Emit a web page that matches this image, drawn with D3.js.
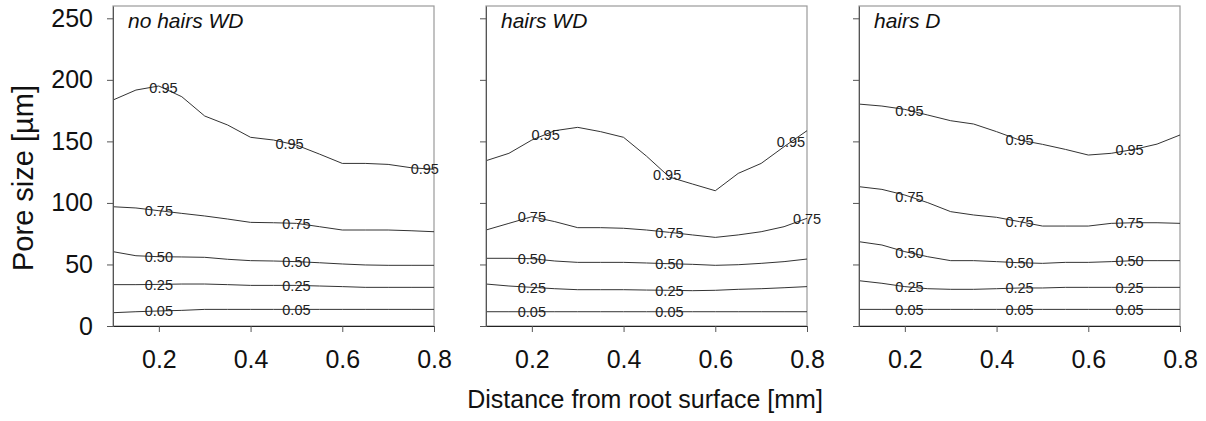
<!DOCTYPE html>
<html>
<head>
<meta charset="utf-8">
<script src="https://cdn.jsdelivr.net/npm/d3@7"></script>
<style>
    body { margin: 0; background: #fff; }
    text { font-family: "Liberation Sans", Arial, sans-serif; }
</style>
</head>
<body>
<div id="chart"></div>
<script>
// distance from root surface [mm], shared by all three panels
var distance = [0.1, 0.15, 0.2, 0.25, 0.3, 0.35, 0.4, 0.45, 0.5, 0.55, 0.6, 0.65, 0.7, 0.75, 0.8];
var levels = ["0.05", "0.25", "0.50", "0.75", "0.95"];
var panelNames = ["no hairs WD", "hairs WD", "hairs D"];
var xTicks = [0.2, 0.4, 0.6, 0.8];
var yTicks = [0, 50, 100, 150, 200, 250];

// pore size [µm] of each contour, in the order of levels
var noHairsWD = [
    [10.8, 11.6, 12.2, 12.7, 13.5, 13.5, 13.5, 13.5, 13.5, 13.5, 13.5, 13.5, 13.5, 13.5, 13.5],
    [33.6, 33.6, 33.8, 34.1, 34.1, 33.6, 33.0, 33.0, 33.0, 32.5, 32.0, 31.4, 31.4, 31.4, 31.4],
    [60.4, 57.1, 56.3, 56.1, 55.8, 54.2, 53.1, 52.8, 52.3, 51.4, 50.4, 49.6, 49.3, 49.3, 49.3],
    [96.9, 95.9, 93.7, 91.5, 89.4, 86.9, 84.2, 83.9, 83.4, 80.7, 78.0, 78.0, 78.0, 77.4, 76.6],
    [183.6, 191.7, 195.0, 186.3, 170.6, 163.3, 153.3, 151.1, 147.0, 139.7, 132.1, 132.1, 131.3, 128.6, 127.3]
];
var hairsWD = [
    [11.6, 11.6, 11.6, 11.6, 11.6, 11.6, 11.6, 11.6, 11.6, 11.6, 11.6, 11.6, 11.6, 11.6, 11.6],
    [34.1, 32.5, 31.4, 30.3, 29.5, 29.5, 29.5, 29.2, 29.0, 28.7, 29.0, 29.8, 30.3, 31.1, 32.0],
    [55.0, 55.0, 54.7, 52.8, 51.7, 51.7, 51.7, 51.2, 50.6, 50.1, 49.3, 49.8, 50.9, 52.3, 54.4],
    [78.0, 83.4, 88.8, 84.8, 79.9, 79.9, 79.4, 78.0, 76.1, 74.0, 72.0, 74.0, 76.6, 80.7, 87.5],
    [134.3, 140.3, 151.1, 158.7, 161.4, 157.9, 153.3, 138.0, 121.0, 115.4, 109.9, 124.0, 132.1, 145.7, 158.7]
];
var hairsD = [
    [13.5, 13.5, 13.5, 13.5, 13.5, 13.5, 13.5, 13.5, 13.5, 13.5, 13.5, 13.5, 13.5, 13.5, 13.5],
    [36.8, 34.7, 32.0, 30.3, 29.8, 29.8, 30.3, 30.9, 30.9, 31.4, 31.4, 31.4, 31.4, 31.4, 31.4],
    [68.5, 65.8, 60.4, 56.3, 53.1, 53.1, 52.3, 51.4, 50.9, 51.7, 51.7, 52.3, 53.1, 53.1, 53.1],
    [113.2, 111.0, 106.4, 100.2, 92.9, 90.2, 88.3, 84.8, 81.2, 81.2, 81.2, 83.4, 83.9, 83.9, 83.4],
    [180.3, 178.7, 176.0, 171.4, 166.8, 164.1, 157.9, 151.1, 147.6, 143.5, 138.9, 140.3, 143.5, 147.8, 155.2]
];

// where the contour labels sit along each line (distance)
var noHairsWDLabels = [[0.2, 0.5], [0.2, 0.5], [0.2, 0.5], [0.2, 0.5], [0.21, 0.485, 0.78]];
var hairsWDLabels = [[0.2, 0.5], [0.2, 0.5], [0.2, 0.5], [0.2, 0.5, 0.8], [0.23, 0.495, 0.765]];
var hairsDLabels = [[0.21, 0.45, 0.69], [0.21, 0.45, 0.69], [0.21, 0.45, 0.69], [0.21, 0.45, 0.69], [0.21, 0.45, 0.69]];

function init() {
    var w = 1206;
    var h = 421;
    var top = 6, bottom = 326;
    var panelW = 321;
    var lefts = [113, 486, 859];

    var panels = [
        { name: panelNames[0], lines: noHairsWD, labels: noHairsWDLabels },
        { name: panelNames[1], lines: hairsWD, labels: hairsWDLabels },
        { name: panelNames[2], lines: hairsD, labels: hairsDLabels }
    ];

    var xScale = d3.scaleLinear().domain([0.1, 0.8]).range([0, panelW]);
    var yScale = d3.scaleLinear().domain([0, 260]).range([bottom, top]);

    var svg = d3.select("#chart")
        .append("svg")
        .attr("width", w)
        .attr("height", h);

    var line = d3.line()
        .x(function(d, i) { return xScale(distance[i]); })
        .y(function(d) { return yScale(d); });

    function valueAt(arr, xv) {
        var i = d3.bisectRight(distance, xv) - 1;
        i = Math.max(0, Math.min(distance.length - 2, i));
        var t = (xv - distance[i]) / (distance[i + 1] - distance[i]);
        return arr[i] + t * (arr[i + 1] - arr[i]);
    }

    panels.forEach(function(p, pi) {
        var g = svg.append("g")
            .attr("transform", "translate(" + lefts[pi] + ",0)");

        g.append("rect")
            .attr("x", 0)
            .attr("y", top)
            .attr("width", panelW)
            .attr("height", bottom - top)
            .attr("fill", "none")
            .attr("stroke", "#9a9a9a")
            .attr("stroke-width", 1.2);

        g.selectAll("path.contour")
            .data(p.lines)
            .enter()
            .append("path")
            .attr("class", "contour")
            .attr("d", line)
            .attr("fill", "none")
            .attr("stroke", "#333")
            .attr("stroke-width", 1);

        p.lines.forEach(function(arr, li) {
            g.selectAll("text.lab" + li)
                .data(p.labels[li])
                .enter()
                .append("text")
                .attr("x", function(d) { return xScale(d); })
                .attr("y", function(d) { return yScale(valueAt(arr, d)); })
                .attr("dy", "0.36em")
                .attr("text-anchor", "middle")
                .style("font-size", "14.5px")
                .attr("fill", "#222")
                .text(levels[li]);
        });

        var yAxis = d3.axisLeft(yScale)
            .tickValues(yTicks)
            .tickSize(6)
            .tickSizeOuter(0)
            .tickPadding(14);
        if (pi > 0) yAxis.tickFormat("");

        var ya = g.append("g").call(yAxis);
        ya.select(".domain").attr("stroke", "#555");
        ya.selectAll(".tick line").attr("stroke", "#555");
        ya.selectAll("text").style("font-size", "25px").attr("fill", "#111")
            .style("font-family", "Liberation Sans, Arial, sans-serif");

        var xa = g.append("g")
            .attr("transform", "translate(0," + bottom + ")")
            .call(d3.axisBottom(xScale)
                .tickValues(xTicks)
                .tickFormat(d3.format(".1f"))
                .tickSize(6)
                .tickSizeOuter(0)
                .tickPadding(18));
        xa.select(".domain").attr("stroke", "#222");
        xa.selectAll(".tick line").attr("stroke", "#555");
        xa.selectAll("text").style("font-size", "25px").attr("fill", "#111")
            .style("font-family", "Liberation Sans, Arial, sans-serif");

        g.append("text")
            .attr("x", 15)
            .attr("y", 28)
            .style("font-size", "21px")
            .style("font-style", "italic")
            .attr("fill", "#111")
            .text(p.name);
    });

    svg.append("text")
        .attr("transform", "translate(33,178) rotate(-90)")
        .attr("text-anchor", "middle")
        .style("font-size", "29px")
        .attr("fill", "#111")
        .text("Pore size [µm]");

    svg.append("text")
        .attr("x", 645)
        .attr("y", 408)
        .attr("text-anchor", "middle")
        .style("font-size", "25px")
        .attr("fill", "#111")
        .text("Distance from root surface [mm]");
}

window.onload = init;
</script>
</body>
</html>
